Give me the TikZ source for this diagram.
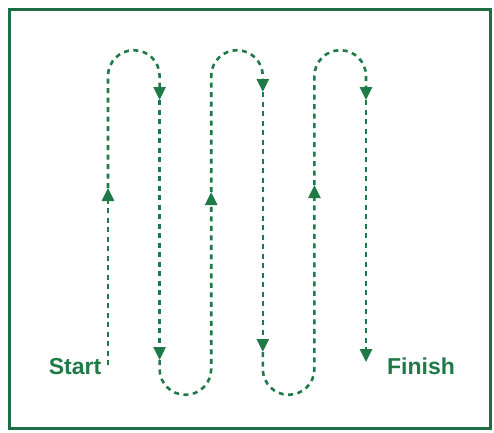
\documentclass[tikz,border=0pt]{standalone}
\usepackage{fontspec}
\setmainfont{Liberation Sans}
\usepackage{tikz}
\usetikzlibrary{arrows.meta}
\definecolor{trailGreen}{HTML}{1F7A47}
\definecolor{frameGreen}{HTML}{1E6E45}

\begin{document}
\begin{tikzpicture}[x=1pt,y=1pt,
    trail/.style={draw=trailGreen,line width=2.6pt,dash pattern=on 5pt off 4.5pt},
    tip/.style={-{Triangle[width=12pt,length=13pt]}},
    tag/.style={font=\fontsize{23}{25}\selectfont\bfseries,text=trailGreen}]
    \useasboundingbox (0,0) rectangle (494,432);
    \draw[draw=frameGreen,line width=3pt] (9,4) rectangle (490,422);
    \node[tag] (start) at (75,65) {Start};
    \node[tag] (finish) at (421,66) {Finish};
    \foreach \i/\x in {1/108,2/159.6,3/211.2,4/262.8,5/314.4,6/366} {
      \coordinate (top\i) at (\x,356);
      \coordinate (bot\i) at (\x,63);
    }
    \coordinate (begin) at (108,67);
    \coordinate (u1) at (108,244);
    \coordinate (d2a) at (159.6,332);
    \coordinate (d2b) at (159.6,72);
    \coordinate (u3) at (211.2,240);
    \coordinate (d4a) at (262.8,340);
    \coordinate (d4b) at (262.8,80);
    \coordinate (u5) at (314.4,247);
    \coordinate (d6a) at (366,332);
    \coordinate (end) at (366,70);
    \draw[trail,tip] (begin) -- (u1);
    \draw[trail,tip] (u1) -- (top1) arc[start angle=180,end angle=0,radius=25.8] -- (d2a);
    \draw[trail,tip] (d2a) -- (d2b);
    \draw[trail,tip] (d2b) -- (bot2) arc[start angle=180,end angle=360,radius=25.8] -- (u3);
    \draw[trail,tip] (u3) -- (top3) arc[start angle=180,end angle=0,radius=25.8] -- (d4a);
    \draw[trail,tip] (d4a) -- (d4b);
    \draw[trail,tip] (d4b) -- (bot4) arc[start angle=180,end angle=360,radius=25.8] -- (u5);
    \draw[trail,tip] (u5) -- (top5) arc[start angle=180,end angle=0,radius=25.8] -- (d6a);
    \draw[trail,tip] (d6a) -- (end);
  \end{tikzpicture}
\end{document}
